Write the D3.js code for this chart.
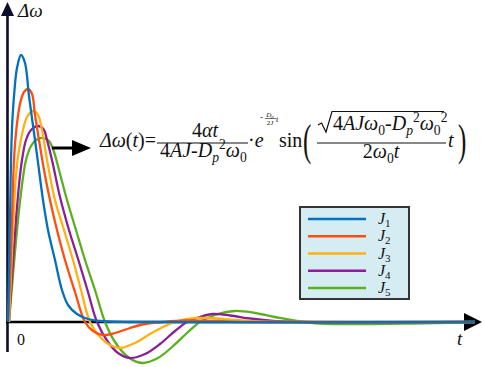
<!DOCTYPE html>
<html>
  <head>
    <meta charset="UTF-8">
    <title>delta omega response</title>
    <style>
      body { margin: 0; background: #fff; }
      .curve { fill: none; stroke-width: 2.3px; }
    </style>
    <script src="https://d3js.org/d3.v7.min.js"></script>
  </head>
  <body>
    <div id="chart"></div>
    <script>
      // series: [t, delta omega] (arbitrary units)
      var j1 = [[0,0],[0.1,5.2],[0.2,10.2],[0.3,16.2],[0.45,20.4],[0.65,23.2],[0.9,25.4],[1.3,26.7],[1.7,25.9],[2.1,22.6],[2.7,18.2],[3.1,15.2],[3.5,12.2],[4.0,9.2],[4.7,6.2],[5.4,3.2],[6.0,1.7],[6.9,0.8],[8.0,0.3],[9.2,0.1],[12.2,0],[46.7,0]];
      var j2 = [[0,0],[0.2,4.2],[0.4,10.2],[0.6,16.2],[0.85,19.4],[1.2,21.8],[1.6,23.0],[2.0,23.3],[2.4,22.8],[2.7,20.7],[3.1,18.2],[3.6,15.2],[4.2,12.2],[4.9,9.2],[5.7,6.2],[6.7,3.0],[7.7,0],[8.5,-0.9],[9.5,-1.3],[10.7,-1.1],[12.2,-0.6],[13.7,-0.2],[15.5,0],[17.7,0.15],[20.7,0.1],[24.2,0],[46.7,0]];
      var j3 = [[0.1,0],[0.3,4.7],[0.55,10.2],[0.8,14.7],[1.1,17.2],[1.5,19.2],[1.9,20.5],[2.5,21.1],[3.0,20.7],[3.4,19.2],[3.9,16.2],[4.7,12.2],[5.6,9.2],[6.5,6.2],[7.3,3.2],[8.2,0],[9.2,-1.5],[10.2,-2.3],[11.2,-2.6],[12.7,-2.1],[14.2,-1.2],[15.7,-0.4],[17.0,0.1],[18.7,0.4],[20.2,0.4],[22.7,0.2],[25.2,0.05],[29.2,0],[46.7,0]];
      var j4 = [[0.1,0],[0.4,4.7],[0.8,10.2],[1.1,13.7],[1.4,16.2],[1.8,18.2],[2.3,19.2],[3.05,19.6],[3.6,19.2],[3.9,18.2],[4.4,16.2],[5.2,12.5],[6.1,9.2],[7.1,6.0],[8.0,3.0],[8.9,0],[10.0,-2.0],[11.0,-3.1],[12.2,-3.6],[13.7,-3.2],[15.2,-2.2],[16.7,-0.9],[17.9,0],[19.2,0.5],[20.5,0.8],[22.2,0.65],[24.2,0.35],[26.5,0.1],[29.2,0],[32.2,-0.05],[46.7,0]];
      var j5 = [[0.1,0],[0.5,4.7],[1.0,10.2],[1.4,13.7],[1.8,16.2],[2.3,17.6],[2.8,18.2],[3.5,18.4],[4.1,18.1],[4.6,17.0],[5.1,15.2],[5.9,12.2],[6.8,9.2],[7.7,6.2],[8.7,3.2],[9.7,0],[10.7,-2.0],[12.0,-3.5],[13.4,-4.1],[15.0,-3.6],[16.4,-2.5],[17.9,-1.1],[19.2,0],[20.7,0.7],[22.7,1.1],[24.7,0.9],[26.7,0.5],[28.9,0.1],[31.2,-0.15],[35.2,-0.2],[40.2,-0.15],[44.2,-0.08],[46.7,-0.02]];

      var seriesNames = ["1", "2", "3", "4", "5"];   // subscripts of J
      var seriesData = [j1, j2, j3, j4, j5];
      var colors = ["#0072BD", "#FF4D0D", "#FFB012", "#8A1F98", "#5BB01F"];

      var width = 484, height = 367;
      var serif = "Liberation Serif";

      var svg = d3.select("#chart").append("svg")
          .attr("width", width)
          .attr("height", height);

      var x = d3.scaleLinear().domain([0, 47.5]).range([8, 483]);
      var y = d3.scaleLinear().domain([-5, 32]).range([372, 2]);

      // axes with arrow heads
      svg.append("line")
          .attr("x1", x(0) - 0.5).attr("x2", x(0) - 0.5)
          .attr("y1", 352).attr("y2", 14)
          .style("stroke", "#0d0d2e").style("stroke-width", 2.6);
      svg.append("path")
          .attr("d", "M" + (x(0) - 0.5) + ",2 L" + (x(0) + 6) + ",16 L" + (x(0) - 7) + ",16 Z")
          .style("fill", "#0d0d2e");
      svg.append("line")
          .attr("x1", 6).attr("x2", 466)
          .attr("y1", y(0)).attr("y2", y(0))
          .style("stroke", "#000").style("stroke-width", 2.6);
      svg.append("path")
          .attr("d", "M482," + y(0) + " L464," + (y(0) - 9) + " L464," + (y(0) + 9) + " Z")
          .style("fill", "#000");

      var line = d3.line()
          .x(function(d) { return x(d[0]); })
          .y(function(d) { return y(d[1]); })
          .curve(d3.curveCatmullRom.alpha(0.5));

      // draw last series first so J1 sits on top
      svg.selectAll(".curve")
          .data(seriesData.map(function(d, i) { return {pts: d, i: i}; }).reverse())
        .enter().append("path")
          .attr("class", "curve")
          .attr("d", function(d) { return line(d.pts); })
          .style("stroke", function(d) { return colors[d.i]; });

      function txt(g, px, py, size) {
        return g.append("text").attr("x", px).attr("y", py)
            .style("font-family", serif).style("font-size", size + "px").style("fill", "#111");
      }

      // axis labels
      txt(svg, 18, 17, 19).style("font-style", "italic").text("\u0394\u03c9");
      txt(svg, 17, 345, 16).text("0");
      txt(svg, 457, 345, 19).style("font-style", "italic").text("t");

      // legend
      var legend = svg.append("g");
      legend.append("rect")
          .attr("x", 300).attr("y", 207).attr("width", 109).attr("height", 92)
          .style("fill", "#D5ECF2").style("stroke", "#333").style("stroke-width", 2);
      var legendY = d3.scalePoint().domain(seriesNames).range([219, 288]);
      seriesNames.forEach(function(n, i) {
        legend.append("line")
            .attr("x1", 308).attr("x2", 366)
            .attr("y1", legendY(n)).attr("y2", legendY(n))
            .style("stroke", colors[i]).style("stroke-width", 2.4);
        var t = txt(legend, 378, legendY(n) + 5, 16);
        t.append("tspan").style("font-family", serif).style("font-style", "italic").text("J");
        t.append("tspan").attr("dy", 3).style("font-family", serif).style("font-size", "11px").text(n);
      });

      // arrow pointing at the formula
      svg.append("line")
          .attr("x1", 52).attr("x2", 76).attr("y1", 148).attr("y2", 148)
          .style("stroke", "#000").style("stroke-width", 3);
      svg.append("path").attr("d", "M72,140 L91,148 L72,156 Z").style("fill", "#000");

      // formula, built from runs: {t: text, i: italic, s: "sub"|"sup"}
      function mathText(g, px, py, parts, size, anchor) {
        var t = txt(g, px, py, size).style("text-anchor", anchor || "start");
        var shift = 0;
        parts.forEach(function(p) {
          var target = p.s === "sub" ? size * 0.25 : p.s === "sup" ? -size * 0.42 : 0;
          t.append("tspan")
              .attr("dy", target - shift)
              .style("font-family", serif)
              .style("font-style", p.i ? "italic" : "normal")
              .style("font-size", (p.s ? size * 0.68 : size) + "px")
              .text(p.t);
          shift = target;
        });
        return t;
      }
      function bar(g, x1, x2, yy, w) {
        g.append("line").attr("x1", x1).attr("x2", x2).attr("y1", yy).attr("y2", yy)
            .style("stroke", "#111").style("stroke-width", w || 1.1);
      }

      var f = svg.append("g");
      mathText(f, 100, 147, [{t: "\u0394\u03c9", i: 1}, {t: "("}, {t: "t", i: 1}, {t: ")="}], 20);
      mathText(f, 205, 137, [{t: "4"}, {t: "\u03b1t", i: 1}], 20, "middle");
      bar(f, 157, 248, 143);
      mathText(f, 160, 157, [{t: "4"}, {t: "AJ", i: 1}, {t: "-"}, {t: "D", i: 1},
        {t: "p", i: 1, s: "sub"}, {t: "2", s: "sup"}, {t: "\u03c9", i: 1}, {t: "0", s: "sub"}], 20);
      mathText(f, 248, 147, [{t: "\u00b7"}, {t: "e", i: 1}], 20);
      // tiny exponent
      mathText(f, 260, 120, [{t: "-"}], 9);
      mathText(f, 270, 116.5, [{t: "D", i: 1}, {t: "p", i: 1, s: "sub"}], 7, "middle");
      bar(f, 265, 276, 118.5, 0.6);
      mathText(f, 270, 124.5, [{t: "2"}, {t: "J", i: 1}], 7, "middle");
      mathText(f, 276, 122, [{t: "t", i: 1}], 8);
      mathText(f, 279, 147, [{t: "sin"}], 20);
      f.append("text").attr("transform", "translate(303,155) scale(1,1.75)")
          .style("font-family", serif).style("font-size", "25px").style("fill", "#111").text("(");
      f.append("path")
          .attr("d", "M318,125 L321.5,123 L326,132 L332,111.5 L444,111.5")
          .style("fill", "none").style("stroke", "#111").style("stroke-width", 1.2);
      mathText(f, 333, 130, [{t: "4"}, {t: "AJ\u03c9", i: 1}, {t: "0", s: "sub"}, {t: "-"},
        {t: "D", i: 1}, {t: "p", i: 1, s: "sub"}, {t: "2", s: "sup"}, {t: "\u03c9", i: 1},
        {t: "0", s: "sub"}, {t: "2", s: "sup"}], 20);
      bar(f, 317, 446, 143);
      mathText(f, 381, 158, [{t: "2"}, {t: "\u03c9", i: 1}, {t: "0", s: "sub"}, {t: "t", i: 1}], 20, "middle");
      mathText(f, 448, 147, [{t: "t", i: 1}], 20);
      f.append("text").attr("transform", "translate(458,155) scale(1,1.75)")
          .style("font-family", serif).style("font-size", "25px").style("fill", "#111").text(")");
    </script>
  </body>
</html>
